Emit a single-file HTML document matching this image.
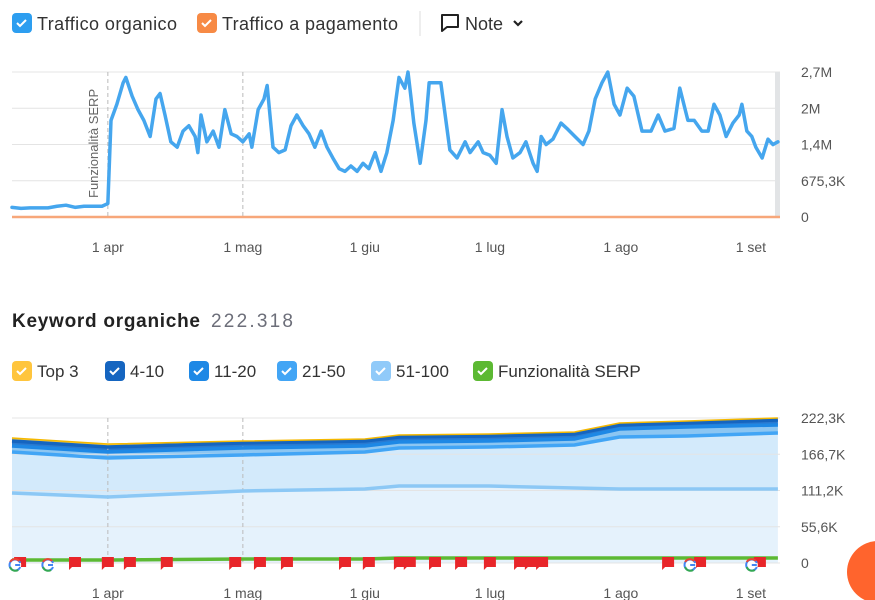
<!DOCTYPE html>
<html><head><meta charset="utf-8">
<style>
body{margin:0;background:#fff;font-family:"Liberation Sans",sans-serif;}
svg{display:block}
</style></head>
<body>
<svg id="c" width="875" height="600" xmlns="http://www.w3.org/2000/svg">
  <g font-size="18" fill="#333">
    <g>
      <rect x="12" y="13" width="20" height="20" rx="4" fill="#2d9ef0"/>
      <path d="M17 23 l3 3 l6 -6" stroke="#fff" stroke-width="2" fill="none"/>
      <text x="37" y="30" textLength="140">Traffico organico</text>
    </g>
    <g>
      <rect x="197" y="13" width="20" height="20" rx="4" fill="#f78a45"/>
      <path d="M202 23 l3 3 l6 -6" stroke="#fff" stroke-width="2" fill="none"/>
      <text x="222" y="30" textLength="176">Traffico a pagamento</text>
    </g>
    <line x1="420" y1="11" x2="420" y2="36" stroke="#ddd"/>
    <g>
      <path d="M442 15 h16 v12 h-11 l-5 4 z" stroke="#222" stroke-width="2" fill="none" stroke-linejoin="round"/>
      <text x="465" y="30">Note</text>
      <path d="M514 21 l4 4 l4 -4" stroke="#222" stroke-width="2.2" fill="none"/>
    </g>
  </g>
  <g id="top"></g>
  <g>
    <text x="12" y="327" font-size="19" font-weight="bold" fill="#222" textLength="188">Keyword organiche</text>
    <text x="211" y="327" font-size="19" fill="#6c6e79" textLength="82">222.318</text>
  </g>
  <g id="leg2" font-size="17" fill="#333"></g>
  <g id="bot"></g>
  <circle cx="878" cy="572" r="31" fill="#ff642d"/>
</svg>
<script>
const NS="http://www.w3.org/2000/svg";
// ---- shared x axis (day index from start) ----
const monthLabels=["1 apr","1 mag","1 giu","1 lug","1 ago","1 set"];
const monthDays=[21.3,51.3,78.4,106.2,135.3,164.2];
// ---- top chart data ----
const trafficDays=[0,2,4,6,8,10,12,14,16,18,20,21.3,22,23.3,24.7,25.3,26.7,28,29.3,30.7,32,32.9,34,35.3,36.7,38,39.3,40.7,41.3,42,43.3,44.7,46,47.3,48.7,50,51.3,52.7,53.3,54.7,56,56.7,58,59.3,60.7,62,63.3,64.7,66,67.3,68.7,70,71.3,72.7,74,75.3,76.7,78,79.3,80.7,82,83.3,84.7,86,87.3,88,88.7,89.3,90.7,92,92.7,95.3,97.3,98.9,100.7,101.8,103.6,104.7,106.2,107.6,108.9,110,111.3,112.9,114.2,115.8,116.7,117.6,118.7,120.2,122,123.3,125.1,126.9,128.2,129.6,131.1,132.4,133.8,135.1,136.7,138.2,140,142,143.6,145.1,147.1,148.4,150.2,151.6,153.3,154.7,156,157.3,158.7,160.2,161.6,162.2,163.3,164.4,165.3,166.7,168,169.1,170.2];
const organicM=[0.18,0.16,0.17,0.17,0.17,0.2,0.22,0.18,0.2,0.2,0.2,0.25,1.8,2.1,2.5,2.6,2.25,2.0,1.8,1.5,2.2,2.3,1.9,1.4,1.3,1.6,1.7,1.5,1.2,1.9,1.4,1.6,1.3,2.0,1.55,1.5,1.4,1.55,1.3,2.0,2.2,2.45,1.3,1.2,1.25,1.7,1.9,1.7,1.55,1.3,1.6,1.3,1.1,0.9,0.85,0.95,0.85,1.0,0.9,1.2,0.85,1.2,1.8,2.6,2.4,2.7,2.2,1.75,1.0,1.8,2.5,2.5,1.25,1.1,1.4,1.2,1.4,1.2,1.15,1.0,2.0,1.5,1.1,1.2,1.4,1.0,0.85,1.5,1.35,1.45,1.75,1.65,1.5,1.35,1.6,2.2,2.5,2.7,2.1,1.9,2.4,2.25,1.6,1.6,1.9,1.6,1.65,2.4,1.8,1.8,1.6,1.6,2.1,1.9,1.5,1.75,1.9,2.1,1.6,1.5,1.3,1.1,1.45,1.35,1.4];
const topTicks=["0","675,3K","1,4M","2M","2,7M"];
const topMax=2.7012;
// ---- bottom chart data (K keywords, cumulative line levels) ----
const kwDays=[0,21.3,51.3,78.4,86,106,125,135,150,170.2];
const top3=[191.6,182.4,187.0,190.1,196.2,197.8,200.8,214.6,217.7,222.3];
const pos4to10=[187.0,177.8,184.0,187.0,193.2,194.7,197.8,211.6,214.6,219.2];
const pos11to20=[179.4,170.2,176.3,179.4,185.5,187.0,190.1,205.4,208.5,211.6];
const pos21to50=[170.2,161.0,165.6,170.2,176.3,177.8,180.9,193.2,194.7,199.3];
const pos51to100=[107.3,101.2,110.4,113.4,118.0,118.0,115.0,113.4,113.4,113.4];
const serpFeat=[4.6,4.6,6.1,6.1,7.7,7.7,7.7,7.7,7.7,7.7];
const botTicks=["0","55,6K","111,2K","166,7K","222,3K"];
const botMax=222.3;
const flagDays=[1.8,14.0,21.3,26.2,34.4,49.6,55.1,61.1,74.0,79.3,86.2,88.4,94.0,99.8,106.2,112.9,115.3,117.8,145.8,152.9,166.2];
const googleDays=[0.7,8.0,150.7,164.4];

const X=d=>12+d*4.5;
function el(tag,attrs,parent){const e=document.createElementNS(NS,tag);for(const k in attrs)e.setAttribute(k,attrs[k]);parent.appendChild(e);return e;}

function drawFrame(g,y0,y1,ticks,name){
  for(let i=0;i<ticks.length;i++){
    const y=y0-(y0-y1)*i/(ticks.length-1);
    const l=el('line',{x1:12,x2:780,y1:y,y2:y,stroke:'#e4e4e4'},g);
    
    
    const t=el('text',{x:801,y:y+5,'font-size':14,fill:'#555'},g);
    t.textContent=ticks[i];
    
    
  }
  [monthDays[0],monthDays[1]].forEach(d=>{
    const l=el('line',{x1:X(d),x2:X(d),y1:y1,y2:y0,stroke:'#bbb','stroke-dasharray':'4,3'},g);
    
    
  });
  for(let i=0;i<monthLabels.length;i++){
    const t=el('text',{x:X(monthDays[i]),y:y0+35,'font-size':14,fill:'#555','text-anchor':'middle'},g);
    t.textContent=monthLabels[i];
    
    
  }
}
// top chart
const gt=document.getElementById('top');
const TY=v=>217-v/topMax*145;
drawFrame(gt,217,72,topTicks,'traffic');
const sh=el('rect',{x:775,y:72,width:5,height:145,fill:'#e2e4e6'},gt);


const serp=el('text',{x:0,y:0,'font-size':13,fill:'#666',transform:'translate(98,198) rotate(-90)'},gt);
serp.textContent='Funzionalità SERP';


const paid=el('line',{x1:12,x2:780,y1:217,y2:217,stroke:'#f7a77a','stroke-width':2.5},gt);


const op=el('polyline',{points:trafficDays.map((d,i)=>X(d)+','+TY(organicM[i])).join(' '),fill:'none',stroke:'#45a6ee','stroke-width':3.5,'stroke-linejoin':'round','stroke-linecap':'round'},gt);



// legend 2
const lg=document.getElementById('leg2');
const legItems=[["Top 3","#ffc53d",12],["4-10","#1565c0",105],["11-20","#1e88e5",189],["21-50","#42a5f5",277],["51-100","#90caf9",371],["Funzionalità SERP","#5cb933",473]];
legItems.forEach(it=>{
  const g=el('g',{},lg);
  
  
  el('rect',{x:it[2],y:361,width:20,height:20,rx:4,fill:it[1]},g);
  el('path',{d:`M${it[2]+5} 371 l3 3 l6 -6`,stroke:'#fff','stroke-width':2,fill:'none'},g);
  const t=el('text',{x:it[2]+25,y:377},g);t.textContent=it[0];
});

// bottom chart
const gb=document.getElementById('bot');
const BY=v=>563-v/botMax*145;
const series=[top3,pos4to10,pos11to20,pos21to50,pos51to100,serpFeat];
const fills=['#f5cc4a','#2a7ad0','#8cc6f2','#d3eafb','#e5f2fc','#e5f2fc'];
for(let s=0;s<5;s++){
  const a=series[s],b=series[s+1];
  const pts=kwDays.map((d,i)=>X(d)+','+BY(a[i])).concat(kwDays.slice().reverse().map((d,j)=>X(d)+','+BY(b[kwDays.length-1-j])));
  const p=el('polygon',{points:pts.join(' '),fill:fills[s]},gb);
  
  
}
const z=el('polygon',{points:kwDays.map((d,i)=>X(d)+','+BY(serpFeat[i])).join(' ')+` ${X(kwDays[kwDays.length-1])},563 12,563`,fill:'#e5f2fc'},gb);


drawFrame(gb,563,418,botTicks,'keyword');
const lineCols=['#f5b800','#1565c0','#1e88e5','#42a5f5','#8cc8f5','#5cb933'];
const lineW=[1.5,3.5,3.5,3.5,3.5,3.5];
const lineNames=['top3-line','pos-4-10-line','pos-11-20-line','pos-21-50-line','pos-51-100-line','serp-features-line'];
for(let s=5;s>=0;s--){
  const pl=el('polyline',{points:kwDays.map((d,i)=>X(d)+','+BY(series[s][i])).join(' '),fill:'none',stroke:lineCols[s],'stroke-width':lineW[s]},gb);
  
  
}
flagDays.forEach(d=>{
  const x=X(d);
  const f=el('path',{d:`M${x-6} 557 h12 v10 h-9 l-3 3 z`,fill:'#e8262a'},gb);
  
  
});
googleDays.forEach(d=>{
  const x=X(d);
  const g=el('g',{},gb);
  
  
  el('circle',{cx:x,cy:565,r:6,fill:'#fff'},g);
  el('path',{d:`M${x+5} 563 A5.5 5.5 0 1 0 ${x+5} 567`,stroke:'#4285f4','stroke-width':2,fill:'none'},g);
  el('path',{d:`M${x-5} 562 A5.5 5.5 0 0 1 ${x+4} 561`,stroke:'#ea4335','stroke-width':2,fill:'none'},g);
  el('path',{d:`M${x-5} 567 A5.5 5.5 0 0 0 ${x+3} 570`,stroke:'#34a853','stroke-width':2,fill:'none'},g);
  el('line',{x1:x,x2:x+5,y1:565,y2:565,stroke:'#4285f4','stroke-width':2},g);
});
</script>
</body></html>
